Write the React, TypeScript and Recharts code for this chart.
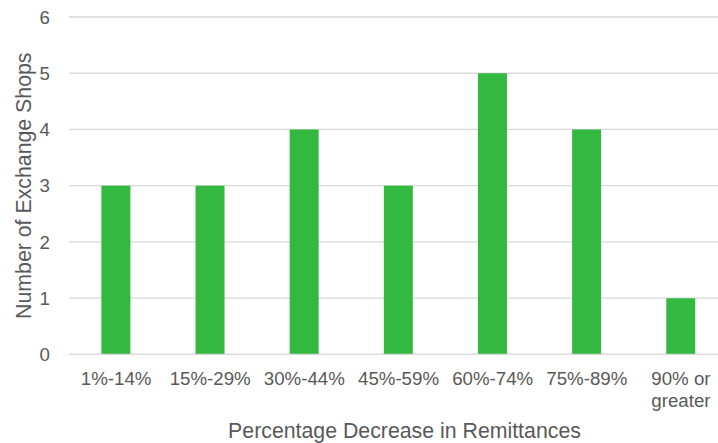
import { BarChart, Bar, XAxis, YAxis, CartesianGrid } from 'recharts';

const categories = ['1%-14%', '15%-29%', '30%-44%', '45%-59%', '60%-74%', '75%-89%', '90% or\ngreater'];
const shopCounts = [3, 3, 4, 3, 5, 4, 1];
const yTicks = [0, 1, 2, 3, 4, 5, 6];

const xTitle = 'Percentage Decrease in Remittances';
const yTitle = 'Number of Exchange Shops';

const FONT = '"Liberation Sans", Arial, sans-serif';
const TEXT = '#595959';
const GRID = '#d9d9d9';
const GREEN = '#33b940';

const chartData = categories.map((cat, i) => ({ cat, value: shopCounts[i] }));

// multi-line category labels, split on \n
const CategoryTick = (props: any) => {
  const { x, y, payload } = props;
  const lines = String(payload.value).split('\n');
  return (
    <text x={x} y={y + 31} textAnchor="middle" fill={TEXT} fontSize={18.7} fontFamily={FONT}>
      {lines.map((line, i) => (
        <tspan key={i} x={x} dy={i === 0 ? 0 : 21.5}>{line}</tspan>
      ))}
    </text>
  );
};

const XTitle = (props: any) => {
  const { viewBox } = props;
  return (
    <text
      x={viewBox.x + viewBox.width / 2 + 6}
      y={viewBox.y + viewBox.height - 5}
      textAnchor="middle"
      fill={TEXT}
      fontSize={21.3}
      fontFamily={FONT}
    >
      {xTitle}
    </text>
  );
};

const YTitle = (props: any) => {
  const { viewBox } = props;
  const cx = viewBox.x + 30.5;
  const cy = viewBox.y + viewBox.height / 2;
  return (
    <text
      transform={`translate(${cx}, ${cy}) rotate(-90)`}
      textAnchor="middle"
      fill={TEXT}
      fontSize={21.3}
      fontFamily={FONT}
    >
      {yTitle}
    </text>
  );
};

export default function App() {
  return (
    <div style={{ position: 'fixed', left: 0, top: 0, width: 718, height: 443, overflow: 'hidden', background: '#fff' }}>
      <BarChart
        width={728}
        height={443}
        data={chartData}
        margin={{ top: 17, right: 0, left: 0, bottom: 0 }}
        barCategoryGap="34.4%"
      >
        <CartesianGrid horizontal vertical={false} stroke={GRID} strokeWidth={1.3} />
        <XAxis
          dataKey="cat"
          height={88.6}
          interval={0}
          tickLine={false}
          tickSize={0}
          tickMargin={0}
          axisLine={{ stroke: GRID, strokeWidth: 1.3 }}
          tick={<CategoryTick />}
          label={{ content: <XTitle /> }}
        />
        <YAxis
          width={69}
          domain={[0, 6]}
          ticks={yTicks}
          axisLine={false}
          tickLine={false}
          tickSize={0}
          tickMargin={19}
          tick={{ fill: TEXT, fontSize: 18.7, fontFamily: FONT }}
          label={{ content: <YTitle /> }}
        />
        <Bar dataKey="value" fill={GREEN} isAnimationActive={false} />
      </BarChart>
    </div>
  );
}
